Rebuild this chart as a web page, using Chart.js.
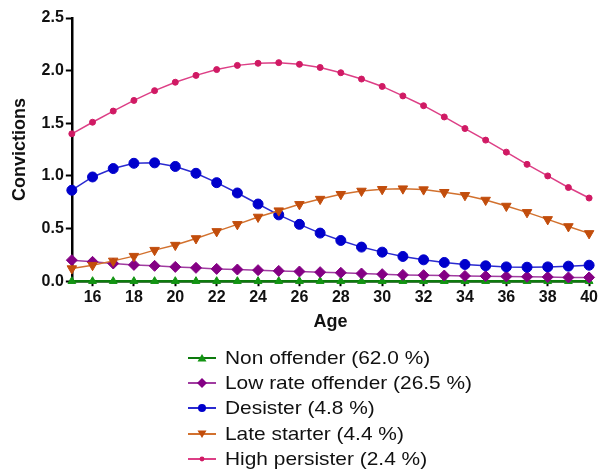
<!DOCTYPE html>
<html lang="en">
<head>
<meta charset="UTF-8">
<title>Convictions by age</title>
<script src="https://cdn.jsdelivr.net/npm/chart.js@4.4.1/dist/chart.umd.min.js"></script>
<style>
    body { margin: 0; background: #ffffff; }
    #wrap { position: relative; width: 600px; height: 470px; }
    #legend { position: absolute; left: 188px; top: 345px; font-family: Arial, "Liberation Sans", sans-serif; font-size: 19px; color: #111; }
    #legend .item { height: 25.3px; display: flex; align-items: center; white-space: nowrap; }
    #legend span { display: inline-block; transform: scaleX(1.1); transform-origin: left center; }
    #legend svg { margin-right: 9px; }
</style>
</head>
<body>
<div id="wrap">
    <canvas id="chart" width="600" height="470"></canvas>
    <div id="legend"></div>
</div>
<script>
    // data
    const ages = [15,16,17,18,19,20,21,22,23,24,25,26,27,28,29,30,31,32,33,34,35,36,37,38,39,40];
    const xTickLabels = [16,18,20,22,24,26,28,30,32,34,36,38,40];
    const yTickLabels = [0, 0.5, 1.0, 1.5, 2.0, 2.5];

    const seriesNames = ['Non offender (62.0 %)', 'Low rate offender (26.5 %)', 'Desister (4.8 %)', 'Late starter (4.4 %)', 'High persister (2.4 %)'];

    const nonOffender = [0,0,0,0,0,0,0,0,0,0,0,0,0,0,0,0,0,0,0,0,0,0,0,0,0,0];
    const lowRate = [0.20,0.184,0.168,0.155,0.146,0.136,0.127,0.117,0.111,0.105,0.098,0.092,0.086,0.080,0.073,0.067,0.060,0.057,0.054,0.050,0.048,0.045,0.042,0.040,0.036,0.036];
    const desister = [0.864,0.99,1.07,1.12,1.124,1.09,1.025,0.936,0.838,0.733,0.63,0.54,0.457,0.387,0.324,0.276,0.235,0.203,0.178,0.159,0.146,0.136,0.133,0.136,0.143,0.152];
    const lateStarter = [0.12,0.152,0.193,0.238,0.295,0.343,0.406,0.473,0.54,0.61,0.67,0.73,0.78,0.826,0.857,0.873,0.879,0.87,0.845,0.816,0.771,0.714,0.654,0.587,0.52,0.454];
    const highPersister = [1.40,1.51,1.616,1.717,1.81,1.89,1.955,2.01,2.05,2.07,2.076,2.06,2.03,1.98,1.92,1.85,1.76,1.667,1.56,1.45,1.34,1.226,1.11,1.00,0.89,0.79];

    const styles = [
        { line: '#0d7a0d', fill: '#139413', shape: 'triangle', r: 4.5 },
        { line: '#a03ca0', fill: '#840084', shape: 'rectRot', r: 5.5 },
        { line: '#2a2ad0', fill: '#0000cc', shape: 'circle', r: 5 },
        { line: '#d2712e', fill: '#c24d0c', shape: 'triangle', r: 5.5, rot: 180 },
        { line: '#dd3f86', fill: '#d01a64', shape: 'circle', r: 3 }
    ];
    const allSeries = [nonOffender, lowRate, desister, lateStarter, highPersister];

    const datasets = allSeries.map(function (vals, i) {
        const s = styles[i];
        return {
            label: seriesNames[i],
            data: ages.map(function (a, j) { return { x: a, y: vals[j] }; }),
            borderColor: s.line,
            backgroundColor: s.fill,
            pointBorderColor: s.fill,
            pointStyle: s.shape,
            pointRotation: s.rot || 0,
            pointRadius: s.r,
            pointBorderWidth: 1,
            borderWidth: i === 0 ? 2.5 : 1.5,
            clip: false,
            order: 4 - i
        };
    });

    Chart.defaults.font.family = 'Arial, "Liberation Sans", sans-serif';
    Chart.defaults.color = '#111';

    const chart = new Chart(document.getElementById('chart'), {
        type: 'line',
        data: { datasets: datasets },
        options: {
            responsive: false,
            animation: false,
            layout: { padding: { left: 5, right: 10, top: 18, bottom: 133 } },
            plugins: { legend: { display: false }, tooltip: { enabled: false } },
            scales: {
                x: {
                    type: 'linear',
                    min: 15, max: 40,
                    afterBuildTicks: function (axis) { axis.ticks = xTickLabels.map(function (v) { return { value: v }; }); },
                    grid: { display: true, drawOnChartArea: false, drawTicks: true, tickLength: 5, tickColor: '#000', tickWidth: 2 },
                    border: { color: '#000', width: 2.5 },
                    ticks: { font: { size: 16, weight: 'bold' }, color: '#111', padding: 2, maxRotation: 0 },
                    title: { display: true, text: 'Age', font: { size: 18, weight: 'bold' }, color: '#111', padding: { top: 2 } }
                },
                y: {
                    min: 0, max: 2.5,
                    afterBuildTicks: function (axis) { axis.ticks = yTickLabels.map(function (v) { return { value: v }; }); },
                    grid: { display: true, drawOnChartArea: false, drawTicks: true, tickLength: 6, tickColor: '#000', tickWidth: 2 },
                    border: { color: '#000', width: 2.5 },
                    ticks: { font: { size: 16, weight: 'bold' }, color: '#111', padding: 2, callback: function (v) { return v.toFixed(1); } },
                    title: { display: true, text: 'Convictions', font: { size: 18, weight: 'bold' }, color: '#111', padding: { bottom: 9 } }
                }
            }
        }
    });

    // html legend, one entry per row
    const legend = document.getElementById('legend');
    datasets.forEach(function (ds, i) {
        const s = styles[i];
        let mark = '';
        if (s.shape === 'triangle' && !s.rot) mark = '<polygon points="14,3 18.5,10.5 9.5,10.5" fill="' + s.fill + '"/>';
        else if (s.shape === 'triangle') mark = '<polygon points="9.5,3.5 18.5,3.5 14,11" fill="' + s.fill + '"/>';
        else if (s.shape === 'rectRot') mark = '<polygon points="14,2 19,7 14,12 9,7" fill="' + s.fill + '"/>';
        else mark = '<circle cx="14" cy="7" r="' + (s.r * 0.8) + '" fill="' + s.fill + '"/>';
        const row = document.createElement('div');
        row.className = 'item';
        row.innerHTML = '<svg width="28" height="14"><line x1="0" y1="7" x2="28" y2="7" stroke="' + s.line + '" stroke-width="2"/>' + mark + '</svg><span>' + ds.label + '</span>';
        legend.appendChild(row);
    });
</script>
</body>
</html>
